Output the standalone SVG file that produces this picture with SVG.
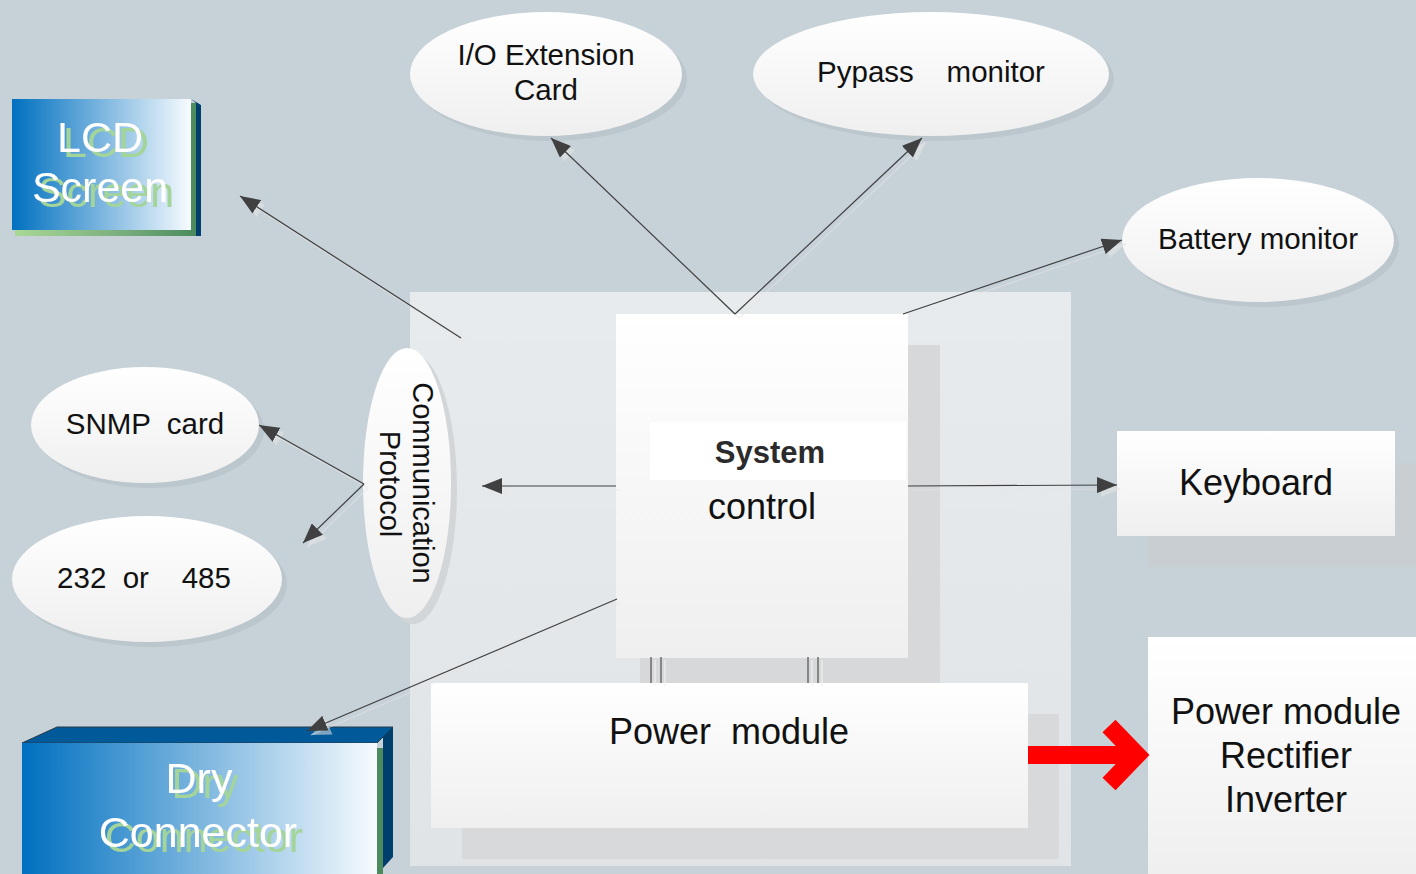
<svg xmlns="http://www.w3.org/2000/svg" width="1416" height="874" viewBox="0 0 1416 874">
<defs>
  <linearGradient id="gv" x1="0" y1="0" x2="0" y2="1">
    <stop offset="0" stop-color="#ffffff"/><stop offset="1" stop-color="#efefef"/>
  </linearGradient>
  <linearGradient id="gc" x1="0" y1="0" x2="0" y2="1">
    <stop offset="0" stop-color="#e8ebed"/><stop offset="1" stop-color="#e1e4e6"/>
  </linearGradient>
  <linearGradient id="gb" x1="0" y1="0" x2="1" y2="0">
    <stop offset="0" stop-color="#0070c0"/><stop offset="1" stop-color="#f7fbfe"/>
  </linearGradient>
  <linearGradient id="gg" x1="0" y1="0" x2="1" y2="0">
    <stop offset="0" stop-color="#a9d795"/><stop offset="0.6" stop-color="#78ad7c"/><stop offset="1" stop-color="#4a8a5c"/>
  </linearGradient>
  <filter id="gshadow" x="-10%" y="-10%" width="130%" height="140%">
    <feFlood flood-color="#a3d49a" result="f"/>
    <feComposite in="f" in2="SourceAlpha" operator="in" result="c"/>
    <feOffset in="c" dx="6" dy="5" result="o"/>
    <feMerge><feMergeNode in="o"/><feMergeNode in="SourceGraphic"/></feMerge>
  </filter>
  <marker id="ah" viewBox="0 0 20 16" refX="20" refY="8" markerWidth="20" markerHeight="16" markerUnits="userSpaceOnUse" orient="auto">
    <path d="M0,0 L20,8 L0,16 Z" fill="#404040"/>
  </marker>
  <marker id="ahs" viewBox="0 0 20 16" refX="20" refY="8" markerWidth="20" markerHeight="16" markerUnits="userSpaceOnUse" orient="auto">
    <path d="M0,0 L20,8 L0,16 Z" fill="#e6e6e6" fill-opacity="0.55"/>
  </marker>
</defs>
<style>
  .t{font-family:"Liberation Sans",Arial,sans-serif;fill:#111;text-anchor:middle;white-space:pre;}
  .s28{font-size:29.5px;}
  .s36{font-size:36px;}
  .w{fill:#ffffff;font-size:43px;filter:url(#gshadow);}
  .ell{fill:url(#gv);}
  .esh{fill:#000000;fill-opacity:0.05;}
  .ln{stroke:#404040;stroke-width:1.2;fill:none;marker-end:url(#ah);}
  .lns{stroke:#e6e6e6;stroke-opacity:0.55;stroke-width:1.2;fill:none;marker-end:url(#ahs);}
  .bar{stroke:#505050;stroke-width:1.2;}
  .bars{stroke:#f0f0f0;stroke-width:1.2;}
</style>

<rect x="0" y="0" width="1416" height="874" fill="#c6d1d8"/>

<g id="container">
  <rect x="410" y="292" width="661" height="574" fill="url(#gc)"/>
</g>

<g id="system-control">
  <rect x="640" y="345" width="300" height="338" fill="#d6d8da"/>
  <rect x="616" y="314" width="292" height="344" fill="url(#gv)"/>
  <rect x="650" y="422" width="256" height="58" fill="#ffffff"/>
  <text class="t" x="770" y="463" style="font-size:31px;font-weight:bold;fill:#2b2b2b">System</text>
  <text class="t s36" x="762" y="519">control</text>
</g>

<g id="power-module">
  <rect x="462" y="714" width="597" height="145" fill="#d7d9da"/>
  <rect x="431" y="683" width="597" height="145" fill="url(#gv)"/>
  <text class="t s36" x="729" y="744">Power  module</text>
</g>

<g id="io-card">
  <ellipse class="esh" cx="551" cy="79" rx="136" ry="62"/>
  <ellipse class="ell" cx="546" cy="74" rx="136" ry="62"/>
  <text class="t s28" x="546" y="65">I/O Extension</text>
  <text class="t s28" x="546" y="100">Card</text>
</g>

<g id="pypass-monitor">
  <ellipse class="esh" cx="936" cy="79" rx="178" ry="62"/>
  <ellipse class="ell" cx="931" cy="74" rx="178" ry="62"/>
  <text class="t s28" x="931" y="82">Pypass    monitor</text>
</g>

<g id="battery-monitor">
  <ellipse class="esh" cx="1263" cy="245" rx="136" ry="62"/>
  <ellipse class="ell" cx="1258" cy="240" rx="136" ry="62"/>
  <text class="t s28" x="1258" y="249">Battery monitor</text>
</g>

<g id="snmp-card">
  <ellipse class="esh" cx="150" cy="430" rx="114" ry="58"/>
  <ellipse class="ell" cx="145" cy="425" rx="114" ry="58"/>
  <text class="t s28" x="145" y="434">SNMP  card</text>
</g>

<g id="rs232-485">
  <ellipse class="esh" cx="152" cy="584" rx="135" ry="63"/>
  <ellipse class="ell" cx="147" cy="579" rx="135" ry="63"/>
  <text class="t s28" x="144" y="588">232  or    485</text>
</g>

<g id="communication-protocol">
  <ellipse cx="413" cy="489" rx="44" ry="135" fill="#d3d6d8"/>
  <ellipse class="ell" cx="407" cy="483" rx="44" ry="135"/>
  <text class="t" x="0" y="0" transform="translate(413,483) rotate(90)" style="font-size:29px">Communication</text>
  <text class="t" x="0" y="0" transform="translate(380,484) rotate(90)" style="font-size:29px">Protocol</text>
</g>

<g id="keyboard">
  <rect x="1148" y="463" width="268" height="104" fill="#c9ced2"/>
  <rect x="1117" y="431" width="278" height="105" fill="url(#gv)"/>
  <text class="t s36" x="1256" y="495">Keyboard</text>
</g>

<g id="power-module-rectifier-inverter">
  <rect x="1148" y="637" width="268" height="237" fill="url(#gv)"/>
  <text class="t s36" x="1286" y="724">Power module</text>
  <text class="t s36" x="1286" y="768">Rectifier</text>
  <text class="t s36" x="1286" y="812">Inverter</text>
</g>

<g id="lcd-screen">
  <rect x="15" y="103" width="182" height="133" fill="url(#gg)"/>
  <polygon points="191,99 201,105 201,236 196,236 196,103" fill="#003e6b"/>
  <rect x="12" y="99" width="179" height="131" fill="url(#gb)"/>
  <text class="t w" x="100" y="152">LCD</text>
  <text class="t w" x="100" y="202">Screen</text>
</g>

<g id="dry-connector">
  <polygon points="22,743 57,727 393,727 377,743" fill="#005a99" stroke="#2a3a48" stroke-width="1"/>
  <rect x="377" y="748" width="6" height="126" fill="#4a8a5c"/>
  <polygon points="383,737 393,727 393,857 383,868" fill="#003e6b"/>
  <rect x="22" y="743" width="355" height="131" fill="url(#gb)"/>
  <text class="t w" x="199" y="793">Dry</text>
  <text class="t w" x="198" y="847">Connector</text>
</g>

<g id="red-arrow">
  <rect x="1028" y="746" width="100" height="18" fill="#ff0000"/>
  <polyline points="1109,726 1137,755 1109,784" fill="none" stroke="#ff0000" stroke-width="18" stroke-linejoin="miter" stroke-miterlimit="10"/>
</g>

<g id="connectors">
  <g id="connector-shadows">
    <line class="lns" x1="465" y1="342" x2="244" y2="200"/>
    <line class="lns" x1="739" y1="318" x2="555" y2="142"/>
    <line class="lns" x1="739" y1="318" x2="926" y2="142"/>
    <line class="lns" x1="907" y1="318" x2="1126" y2="244"/>
    <line class="lns" x1="368" y1="488" x2="263" y2="429"/>
    <line class="lns" x1="368" y1="488" x2="307" y2="547"/>
    <line class="lns" x1="620" y1="490" x2="486" y2="490"/>
    <line class="lns" x1="912" y1="490" x2="1121" y2="489"/>
    <line class="lns" x1="621" y1="603" x2="311" y2="735"/>
    <line class="bars" x1="655" y1="660" x2="655" y2="686"/>
    <line class="bars" x1="665" y1="660" x2="665" y2="686"/>
    <line class="bars" x1="812" y1="660" x2="812" y2="686"/>
    <line class="bars" x1="822" y1="660" x2="822" y2="686"/>
  </g>
  <line class="ln" x1="461" y1="338" x2="240" y2="196"/>
  <line class="ln" x1="735" y1="314" x2="551" y2="138"/>
  <line class="ln" x1="735" y1="314" x2="922" y2="138"/>
  <line class="ln" x1="903" y1="314" x2="1122" y2="240"/>
  <line class="ln" x1="364" y1="484" x2="259" y2="425"/>
  <line class="ln" x1="364" y1="484" x2="303" y2="543"/>
  <line class="ln" x1="616" y1="486" x2="482" y2="486"/>
  <line class="ln" x1="908" y1="486" x2="1117" y2="485"/>
  <line class="ln" x1="617" y1="599" x2="307" y2="731"/>
  <line class="bar" x1="651" y1="657" x2="651" y2="683"/>
  <line class="bar" x1="661" y1="657" x2="661" y2="683"/>
  <line class="bar" x1="808" y1="657" x2="808" y2="683"/>
  <line class="bar" x1="818" y1="657" x2="818" y2="683"/>
</g>
</svg>
